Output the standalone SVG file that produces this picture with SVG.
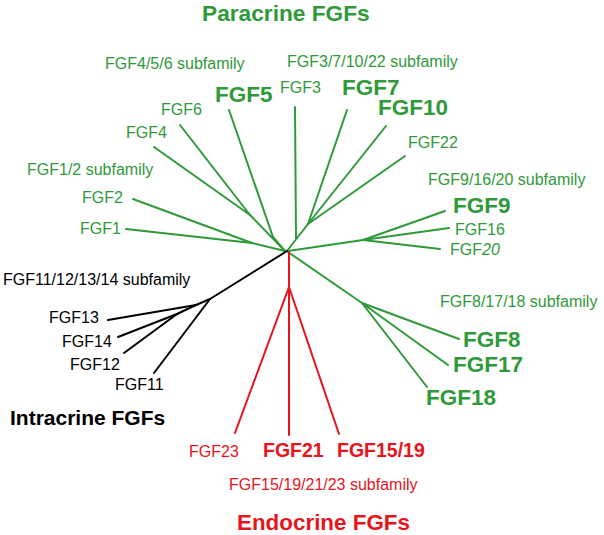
<svg xmlns="http://www.w3.org/2000/svg" width="604" height="535" viewBox="0 0 604 535">
<style>
text{font-family:"Liberation Sans",Arial,sans-serif;}
.g{fill:#2f9a3a}.r{fill:#e8141c}.k{fill:#000}
.n{font-size:16px}
.b{font-size:22.5px;font-weight:bold}
.rb{font-size:19.5px;font-weight:bold}
.t{font-size:22.7px;font-weight:bold}
.lg{stroke:#2f9a3a;stroke-width:2;fill:none;stroke-linecap:round}
.lr{stroke:#e8141c;stroke-width:2;fill:none;stroke-linecap:round}
.lk{stroke:#000;stroke-width:2;fill:none;stroke-linecap:round}
</style>
<rect width="604" height="535" fill="#fff"/>
<g id="connectors">
<g class="lg">
<polyline points="126,229 252,243 285,251"/>
<line x1="133" y1="199" x2="252" y2="243"/>
<line x1="154" y1="147" x2="250" y2="215"/>
<line x1="180" y1="125" x2="250" y2="215"/>
<line x1="250" y1="215" x2="285" y2="251"/>
<polyline points="229,110 273,237 285,251"/>
<line x1="295" y1="107" x2="296" y2="238"/>
<line x1="287" y1="251" x2="308" y2="224"/>
<line x1="308" y1="224" x2="347" y2="110"/>
<line x1="308" y1="224" x2="386" y2="126"/>
<line x1="308" y1="224" x2="405" y2="156"/>
<line x1="288" y1="251" x2="363" y2="240"/>
<line x1="363" y1="240" x2="445" y2="211"/>
<line x1="363" y1="240" x2="449" y2="228"/>
<line x1="363" y1="240" x2="440" y2="249"/>
<line x1="288" y1="252" x2="362" y2="303"/>
<line x1="362" y1="303" x2="459" y2="339"/>
<line x1="362" y1="303" x2="448" y2="365"/>
<line x1="362" y1="303" x2="427" y2="387"/>
</g>
<g class="lr">
<line x1="289" y1="252" x2="289" y2="287"/>
<line x1="289" y1="287" x2="235" y2="433"/>
<line x1="289" y1="287" x2="289" y2="435"/>
<line x1="289" y1="287" x2="339" y2="434"/>
</g>
<g class="lk">
<line x1="287" y1="251" x2="210" y2="299"/>
<line x1="210" y1="299" x2="154" y2="373"/>
<line x1="210" y1="299" x2="196" y2="305"/>
<line x1="196" y1="305" x2="108" y2="320"/>
<line x1="196" y1="305" x2="177" y2="314"/>
<line x1="177" y1="314" x2="118" y2="337"/>
<line x1="177" y1="314" x2="124" y2="353"/>
</g>
</g>
<g id="titles">
<text class="g t" x="202" y="21">Paracrine FGFs</text>
<text class="k t" x="10" y="425" style="font-size:21px">Intracrine FGFs</text>
<text class="r t" x="237" y="530" style="font-size:22.4px">Endocrine FGFs</text>
</g>
<g id="subfamilies">
<text class="g n" x="105" y="69">FGF4/5/6 subfamily</text>
<text class="g n" x="287" y="67">FGF3/7/10/22 subfamily</text>
<text class="g n" x="27" y="175">FGF1/2 subfamily</text>
<text class="g n" x="428" y="185">FGF9/16/20 subfamily</text>
<text class="k n" x="3" y="285">FGF11/12/13/14 subfamily</text>
<text class="g n" x="440" y="307">FGF8/17/18 subfamily</text>
<text class="r n" x="229" y="490">FGF15/19/21/23 subfamily</text>
</g>
<g id="FGF3"><text class="g n" x="280" y="93">FGF3</text></g>
<g id="FGF5"><text class="g b" x="215" y="102">FGF5</text></g>
<g id="FGF7"><text class="g b" x="342" y="95">FGF7</text></g>
<g id="FGF10"><text class="g b" x="378" y="115">FGF10</text></g>
<g id="FGF6"><text class="g n" x="161" y="115">FGF6</text></g>
<g id="FGF4"><text class="g n" x="126" y="138">FGF4</text></g>
<g id="FGF22"><text class="g n" x="408" y="148">FGF22</text></g>
<g id="FGF2"><text class="g n" x="82" y="203">FGF2</text></g>
<g id="FGF1"><text class="g n" x="80" y="234">FGF1</text></g>
<g id="FGF9"><text class="g b" x="453" y="213">FGF9</text></g>
<g id="FGF16"><text class="g n" x="455" y="235">FGF16</text></g>
<g id="FGF20"><text class="g n" x="450" y="255">FGF<tspan font-style="italic">20</tspan></text></g>
<g id="FGF8"><text class="g b" x="463" y="347">FGF8</text></g>
<g id="FGF17"><text class="g b" x="453" y="372">FGF17</text></g>
<g id="FGF18"><text class="g b" x="426" y="405">FGF18</text></g>
<g id="FGF13"><text class="k n" x="49" y="323">FGF13</text></g>
<g id="FGF14"><text class="k n" x="62" y="347">FGF14</text></g>
<g id="FGF12"><text class="k n" x="70" y="370">FGF12</text></g>
<g id="FGF11"><text class="k n" x="115" y="390">FGF11</text></g>
<g id="FGF23"><text class="r n" x="189" y="457">FGF23</text></g>
<g id="FGF21"><text class="r rb" x="263" y="457">FGF21</text></g>
<g id="FGF15-19"><text class="r rb" x="337" y="457">FGF15/19</text></g>
</svg>
